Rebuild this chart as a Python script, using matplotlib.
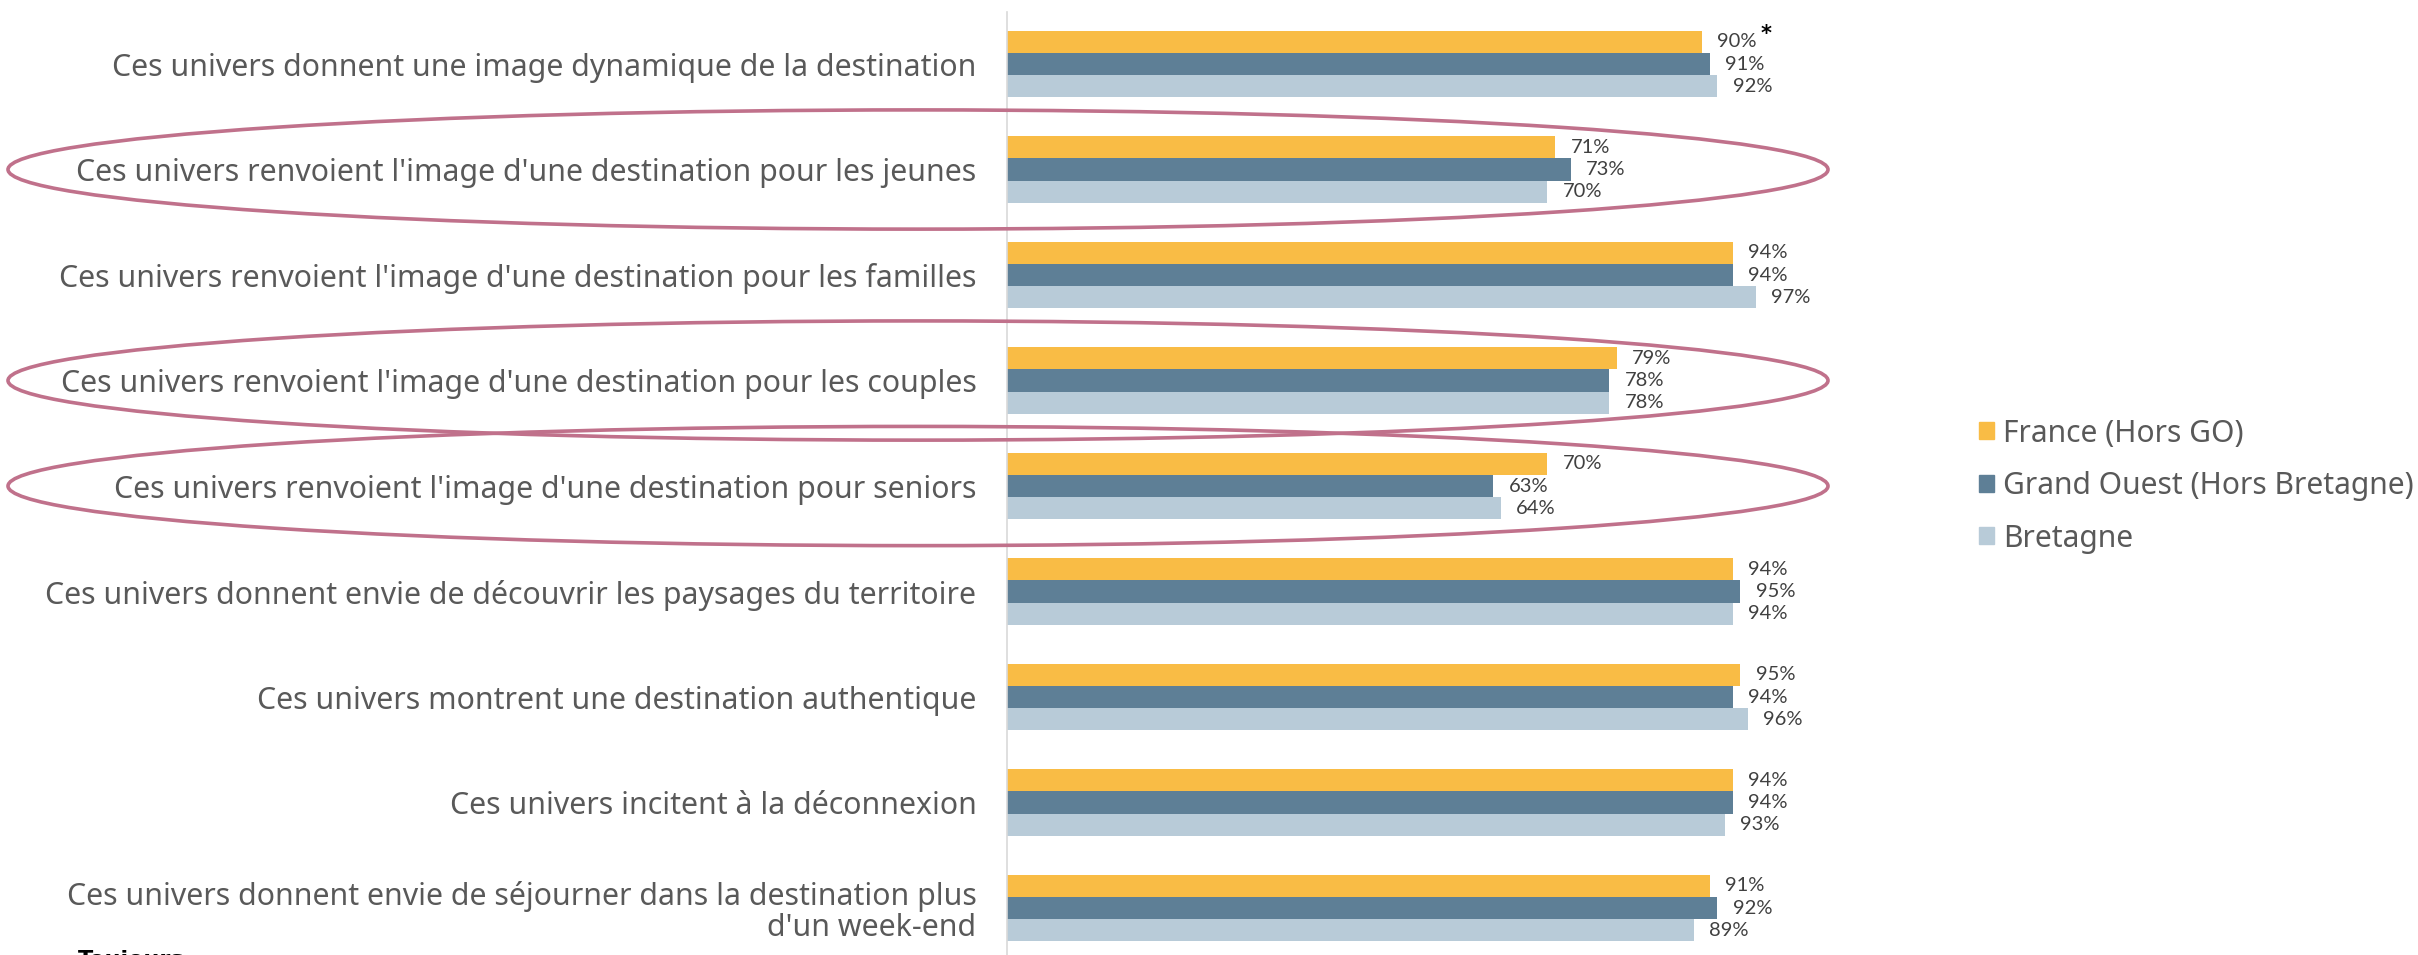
import matplotlib
matplotlib.use("Agg")
import matplotlib.pyplot as plt
import matplotlib.transforms as mtransforms
from matplotlib.patches import Ellipse, Patch
import numpy as np

# data
categories = [
    "Ces univers donnent une image dynamique de la destination",
    "Ces univers renvoient l'image d'une destination pour les jeunes",
    "Ces univers renvoient l'image d'une destination pour les familles",
    "Ces univers renvoient l'image d'une destination pour les couples",
    "Ces univers renvoient l'image d'une destination pour seniors",
    "Ces univers donnent envie de découvrir les paysages du territoire",
    "Ces univers montrent une destination authentique",
    "Ces univers incitent à la déconnexion",
    "Ces univers donnent envie de séjourner dans la destination plus\nd'un week-end",
]
series_names = ["France (Hors GO)", "Grand Ouest (Hors Bretagne)", "Bretagne"]
france = [0.90, 0.71, 0.94, 0.79, 0.70, 0.94, 0.95, 0.94, 0.91]
grand_ouest = [0.91, 0.73, 0.94, 0.78, 0.63, 0.95, 0.94, 0.94, 0.92]
bretagne = [0.92, 0.70, 0.97, 0.78, 0.64, 0.94, 0.96, 0.93, 0.89]
circled = [1, 3, 4]

colors = ["#F9BC45", "#5E7F96", "#B8CBD8"]
ring = "#C0718B"
font = "Noto Sans"
numfont = "Lato"

W, H = 2418, 955
fig = plt.figure(figsize=(W / 100, H / 100), dpi=100)
ax = fig.add_axes([1007 / W, 0, 772 / W, 943 / H])

y = np.arange(len(categories))
bh = 0.21
all_vals = [france, grand_ouest, bretagne]
for k, vals in enumerate(all_vals):
    pos = y + (k - 1) * bh
    ax.barh(pos, vals, height=bh, color=colors[k], label=series_names[k])
    for p, v in zip(pos, vals):
        ax.annotate("%d%%" % round(v * 100), (v, p), xytext=(11, 0),
                    textcoords="offset points", va="center", ha="left",
                    fontsize=14.5, color="#404040", family=numfont,
                    clip_on=False)

# asterisk next to the first label
ax.annotate("*", (france[0], y[0] - bh), xytext=(46, 6),
            textcoords="offset points", ha="center", va="center",
            fontsize=15, fontweight="bold", color="black")

ax.set_xlim(0, 1)
ax.set_ylim(8.445, -0.493)
ax.set_xticks([])
ax.set_yticks(y)
ax.set_yticklabels(categories, fontsize=21.8, color="#595959", family=font,
                   linespacing=1.05)
ax.tick_params(axis="y", length=0, pad=22)
for s in ["top", "right", "bottom"]:
    ax.spines[s].set_visible(False)
ax.spines["left"].set_color("#D9D9D9")
ax.spines["left"].set_linewidth(1.2)

# ellipses around the highlighted rows
trans = mtransforms.blended_transform_factory(fig.transFigure, ax.transData)
for i in circled:
    e = Ellipse((918 / W, i), width=1820 / W, height=1.13, transform=trans,
                fill=False, edgecolor=ring, linewidth=2.6, clip_on=False)
    fig.add_artist(e)

handles = [Patch(color=c) for c in colors]
fig.legend(handles, series_names, loc="center left",
           bbox_to_anchor=(1952 / W, 1 - 486 / H), frameon=False,
           prop={"family": font, "size": 21.6},
           handlelength=0.5, handleheight=0.5, handletextpad=0.3,
           labelspacing=0.75, labelcolor="#595959")

fig.text(78 / W, 1 - 950 / H, "Toujours", fontsize=16, fontweight="bold",
         color="black", va="top", ha="left")

fig.savefig("out.png", dpi=100)
